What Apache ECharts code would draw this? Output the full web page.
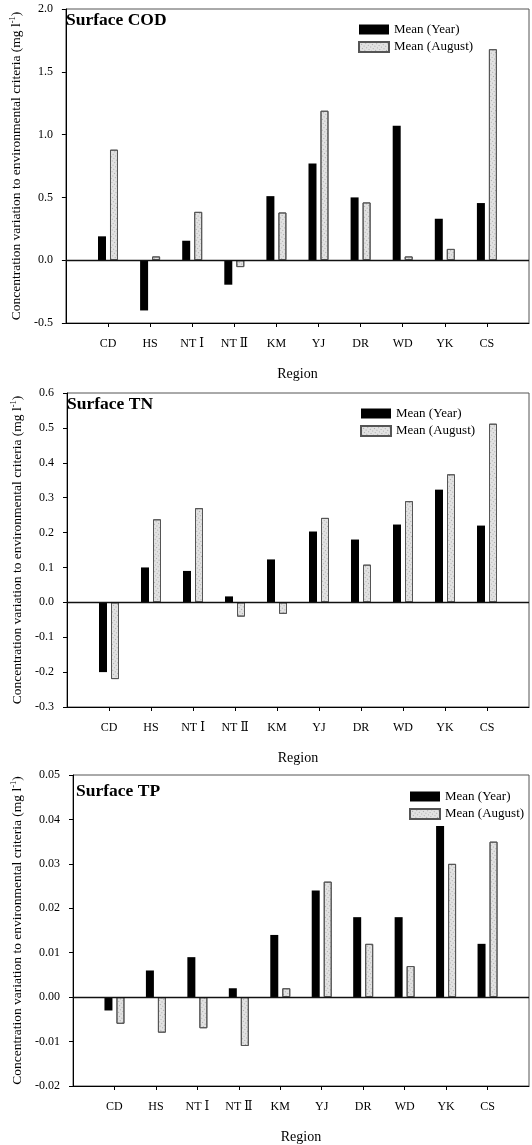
<!DOCTYPE html>
<html>
<head>
<meta charset="utf-8">
<script src="https://cdn.jsdelivr.net/npm/echarts@6/dist/echarts.min.js"></script>
<style>
html,body{margin:0;padding:0;background:#fff;}
#chart{width:532px;height:1145px;}
</style>
</head>
<body>
<div id="chart"></div>
<script>
const categories = ['CD','HS','NT Ⅰ','NT Ⅱ','KM','YJ','DR','WD','YK','CS'];
const seriesNames = ['Mean (Year)','Mean (August)'];
const panelTitles = ['Surface COD','Surface TN','Surface TP'];
const codYear = [0.19,-0.40,0.155,-0.195,0.51,0.77,0.50,1.07,0.33,0.455];
const codAug  = [0.88,0.03,0.385,-0.055,0.38,1.19,0.46,0.03,0.09,1.68];
const tnYear  = [-0.20,0.10,0.09,0.017,0.123,0.203,0.18,0.223,0.323,0.22];
const tnAug   = [-0.22,0.238,0.27,-0.041,-0.033,0.242,0.108,0.29,0.367,0.512];
const tpYear  = [-0.003,0.006,0.009,0.002,0.014,0.024,0.018,0.018,0.0385,0.012];
const tpAug   = [-0.006,-0.008,-0.007,-0.011,0.002,0.026,0.012,0.007,0.030,0.035];
const yMin = [-0.5,-0.3,-0.02];
const yMax = [2.0,0.6,0.05];
const yStep = [0.5,0.1,0.01];
const yDecimals = [1,1,2];
const xName = 'Region';

const FONT = '"Liberation Serif","DejaVu Serif",serif';
const padded = ['', ...categories, ''];
const pad = arr => [null, ...arr, null];
const yearData = [codYear, tnYear, tpYear];
const augData = [codAug, tnAug, tpAug];

const grids = [
  {left:65, right:1, top:9, height:314},
  {left:67, right:1, top:393, height:314},
  {left:73, right:1, top:775, height:314}
];
const yNameGap = [40,42,47];
const titlePos = [{left:66,top:11},{left:67,top:395},{left:76,top:782}];
const legendPos = [{left:358,top:23},{left:360,top:407},{left:409,top:790}];

const chart = echarts.init(document.getElementById('chart'), null, {renderer:'canvas'});
const option = {
  animation:false,
  backgroundColor:'#fff',
  aria:{enabled:true, decal:{show:true}},
  title: panelTitles.map((t,i)=>({text:t, left:titlePos[i].left, top:titlePos[i].top, padding:0,
    textStyle:{fontFamily:FONT, fontWeight:'bold', fontSize:17.5, color:'#000'}})),
  legend: legendPos.map((p,i)=>({
    data: seriesNames.map(n=>({name:n, icon:'rect'})), orient:'vertical', left:p.left, top:p.top, padding:0,
    itemWidth:30, itemHeight:10, itemGap:4.5, selectedMode:false,
    textStyle:{fontFamily:FONT, fontSize:13, color:'#000'}
  })),
  grid: grids.map(g=>Object.assign({show:true, borderColor:'#555', borderWidth:1, backgroundColor:'transparent'}, g)),
  xAxis: grids.map((g,i)=>({
    type:'category', gridIndex:i, data:padded, boundaryGap:false,
    name:xName, nameLocation:'middle', nameGap:44,
    nameTextStyle:{fontFamily:FONT, fontSize:14, color:'#000'},
    axisLine:{onZero:false, lineStyle:{color:'#000', width:1}},
    axisTick:{show:true, length:4, interval:(idx,val)=>val!=='', lineStyle:{color:'#000'}},
    axisLabel:{interval:0, margin:15, fontFamily:FONT, fontSize:12, color:'#000'},
    splitLine:{show:false}
  })),
  yAxis: grids.map((g,i)=>({
    type:'value', gridIndex:i, min:yMin[i], max:yMax[i], interval:yStep[i],
    name:'{a|Concentration variation to environmental criteria (mg l}{s|-1}{a|)}',
    nameLocation:'middle', nameGap:yNameGap[i], nameRotate:90,
    nameTextStyle:{fontFamily:FONT, fontSize:13.5, color:'#000',
      rich:{a:{fontFamily:FONT, fontSize:13.5, color:'#000'}, s:{fontFamily:FONT, fontSize:8.5, color:'#000', verticalAlign:'top', padding:[0,0,7,0]}}},
    axisLine:{show:true, lineStyle:{color:'#000', width:1}},
    axisTick:{show:true, length:4, lineStyle:{color:'#000'}},
    axisLabel:{margin:13, fontFamily:FONT, fontSize:12, color:'#000',
      formatter:v=>Number(v).toFixed(yDecimals[i])},
    splitLine:{show:false}
  })),
  series: []
};
for (let i=0;i<3;i++){
  option.series.push({
    name:seriesNames[0], type:'bar', xAxisIndex:i, yAxisIndex:i,
    data:pad(yearData[i]), barWidth:8, barGap:'50%',
    itemStyle:{color:'#000', borderColor:'#000', borderWidth:0, decal:{symbol:'none'}},
    markLine:{silent:true, symbol:'none', label:{show:false},
      lineStyle:{color:'#111', width:1.4, type:'solid'}, data:[{yAxis:0}]}
  });
  option.series.push({
    name:seriesNames[1], type:'bar', xAxisIndex:i, yAxisIndex:i,
    data:pad(augData[i]), barWidth:8, barGap:'50%',
    itemStyle:{color:'#e2e2e2', borderColor:'#555', borderWidth:1,
      decal:{symbol:'rect', symbolSize:1, color:'rgba(0,0,0,0.25)', dashArrayX:[1,2], dashArrayY:[1,2], rotation:0.6}}
  });
}
chart.setOption(option);
</script>
</body>
</html>
